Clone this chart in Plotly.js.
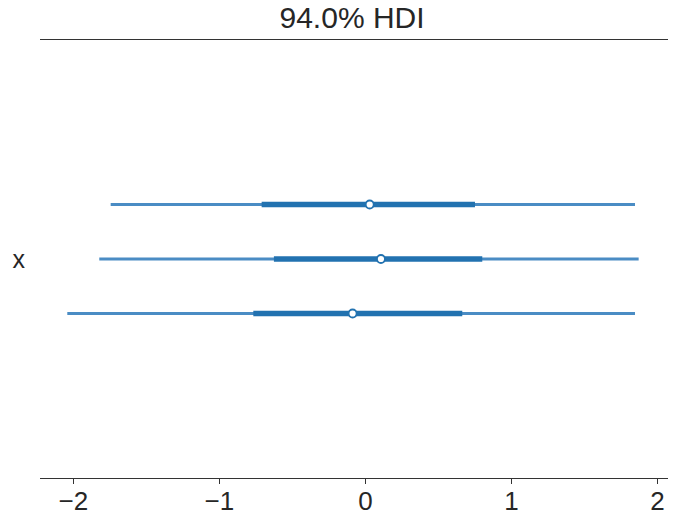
<!DOCTYPE html>
<html>
<head>
<meta charset="utf-8">
<script src="https://cdn.plot.ly/plotly-3.0.1.min.js"></script>
<style>html,body{margin:0;padding:0;background:#fff;}#chart{width:677px;height:518px;}</style>
</head>
<body>
<div id="chart"></div>
<script>
// rows from top to bottom (chains of variable x)
const rowPos = [2, 1, 0];
const hdiLow = [-1.745, -1.823, -2.042];
const hdiHigh = [1.846, 1.871, 1.846];
const iqrLow = [-0.711, -0.627, -0.768];
const iqrHigh = [0.750, 0.800, 0.663];
const medians = [0.029, 0.106, -0.088];
const varLabels = ["x"];
const varTickPos = [1];
const xTicks = [-2, -1, 0, 1, 2];

const thinX = [], thinY = [], thickX = [], thickY = [];
for (let i = 0; i < rowPos.length; i++) {
  thinX.push(hdiLow[i], hdiHigh[i], null); thinY.push(rowPos[i], rowPos[i], null);
  thickX.push(iqrLow[i], iqrHigh[i], null); thickY.push(rowPos[i], rowPos[i], null);
}
const traces = [
  {x: thinX, y: thinY, mode: 'lines', line: {color: '#4a8cc4', width: 3}, hoverinfo: 'skip', showlegend: false},
  {x: thickX, y: thickY, mode: 'lines', line: {color: '#2272b0', width: 5.5}, hoverinfo: 'skip', showlegend: false},
  {x: medians, y: rowPos, mode: 'markers', marker: {color: '#ffffff', size: 8, line: {color: '#2272b0', width: 1.8}}, showlegend: false}
];
const layout = {
  width: 677, height: 518,
  margin: {l: 40, r: 9, t: 40, b: 40},
  paper_bgcolor: '#fff', plot_bgcolor: '#fff',
  font: {family: 'Liberation Sans, Arial, sans-serif', color: '#262626'},
  title: {text: '94.0% HDI', x: 0.52, xanchor: 'center', y: 0.966, yanchor: 'middle', font: {size: 30, color: '#262626'}},
  xaxis: {range: [-2.229, 2.072], tickvals: xTicks, ticks: 'outside', ticklen: 5, tickwidth: 1, tickcolor: '#333',
          showline: true, linecolor: '#333', linewidth: 1.2, mirror: true, showgrid: false, zeroline: false,
          ticklabelstandoff: -5, tickfont: {size: 26, color: '#262626'}},
  yaxis: {range: [-3.02, 5.02], tickvals: varTickPos, ticktext: varLabels, ticks: '', showline: false,
          showgrid: false, zeroline: false, ticklabelstandoff: 14, tickfont: {size: 25, color: '#262626'}}
};
Plotly.newPlot('chart', traces, layout, {displayModeBar: false, staticPlot: true});
</script>
</body>
</html>
